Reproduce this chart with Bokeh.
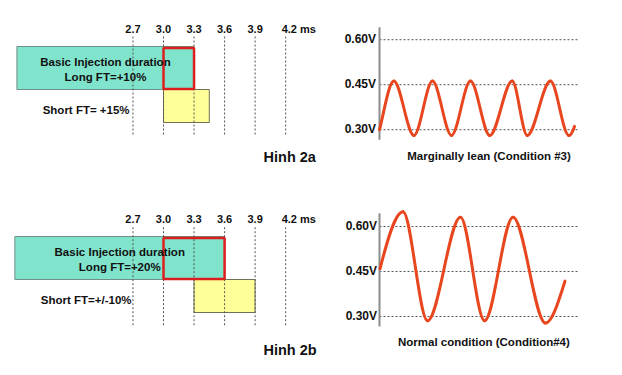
from bokeh.plotting import figure
from bokeh.layouts import column, row
from bokeh.models import Range1d
from bokeh.core.properties import value
from bokeh.embed import file_html
from bokeh.resources import INLINE

# ---------------- data ----------------
ms_ticks = [2.7, 3.0, 3.3, 3.6, 3.9, 4.2]
ms_tick_labels = ["2.7", "3.0", "3.3", "3.6", "3.9", "4.2 ms"]

basic_start = [1.56, 1.54]          # Hinh 2a, Hinh 2b
basic_end = [3.3, 3.6]
long_ft_start = [3.0, 3.0]
long_ft_end = [3.3, 3.6]
short_ft_start = [3.0, 3.3]
short_ft_end = [3.45, 3.9]
bar_titles = ["Basic Injection duration", "Basic Injection duration"]
long_ft_labels = ["Long FT=+10%", "Long FT=+20%"]
short_ft_labels = ["Short FT= +15%", "Short FT=+/-10%"]
panel_labels = ["Hinh 2a", "Hinh 2b"]

volt_ticks = [0.30, 0.45, 0.60]
volt_labels = ["0.30V", "0.45V", "0.60V"]

# O2 sensor traces: knots (start, peaks/troughs, end)
wave_a_t = [0, 14.3, 34.5, 53, 72, 91, 110.3, 132.7, 147.7, 171, 189.3, 195]
wave_a_v = [0.300, 0.462, 0.281, 0.462, 0.281, 0.462, 0.281, 0.462, 0.281, 0.462, 0.281, 0.311]
wave_a_start_slope = 0.013
wave_a_end_slope = 0.010

wave_b_t = [0.5, 23.5, 48, 81, 105, 133.5, 166, 185.5]
wave_b_v = [0.459, 0.649, 0.286, 0.631, 0.286, 0.631, 0.278, 0.418]
wave_b_start_slope = 0.013
wave_b_end_slope = 0.0105

captions = ["Marginally lean (Condition #3)", "Normal condition  (Condition#4)"]

# ---------------- styles ----------------
FONT = value("Liberation Sans")
TEAL = "#80E4CC"
TEAL_EDGE = "#6F8F88"
YELLOW = "#FFFF99"
YELLOW_EDGE = "#707055"
RED = "#DC1E1E"
WAVE = "#E8461E"
GRID = "#555555"
TXT = "#111111"

LEFT_W, RIGHT_W = 330, 276
TOP_H, BOT_H = 186, 173
PX_PER_MS = 101.8
MS_LEFT = 1.3988


def base_fig(w, h, xr, yr):
    p = figure(width=w, height=h, x_range=xr, y_range=yr,
               output_backend="svg", toolbar_location=None,
               x_axis_location=None, y_axis_location=None,
               min_border=0, outline_line_color=None,
               background_fill_color="white", border_fill_color="white")
    p.xgrid.grid_line_color = None
    p.ygrid.grid_line_color = None
    return p


def left_panel(i, h, lay):
    p = base_fig(LEFT_W, h,
                 Range1d(MS_LEFT, MS_LEFT + LEFT_W / PX_PER_MS),
                 Range1d(h, 0))
    # bars
    p.quad(left=[basic_start[i]], right=[basic_end[i]],
           top=[lay["teal_top"]], bottom=[lay["teal_bot"]],
           fill_color=TEAL, line_color=TEAL_EDGE, line_width=1)
    p.quad(left=[short_ft_start[i]], right=[short_ft_end[i]],
           top=[lay["teal_bot"]], bottom=[lay["yel_bot"]],
           fill_color=YELLOW, line_color=YELLOW_EDGE, line_width=1)
    # dotted time lines
    n = len(ms_ticks)
    p.segment(x0=ms_ticks, y0=[lay["gtop"]] * n, x1=ms_ticks, y1=[lay["gbot"]] * n,
              line_color=GRID, line_width=1, line_dash="2 2")
    # long FT box
    p.quad(left=[long_ft_start[i]], right=[long_ft_end[i]],
           top=[lay["red_top"]], bottom=[lay["red_bot"]],
           fill_alpha=0, line_color=RED, line_width=2.5)
    common = dict(text_font=FONT, text_font_style="bold", text_color=TXT,
                  text_baseline="alphabetic")
    # tick labels
    p.text(x=ms_ticks[:-1], y=[lay["tick"]] * (n - 1), text=ms_tick_labels[:-1],
           text_align="center", text_font_size="11px", **common)
    p.text(x=ms_ticks[-1:], y=[lay["tick"]], text=ms_tick_labels[-1:],
           text_align="left", x_offset=-4, text_font_size="11px", **common)
    mid = (basic_start[i] + basic_end[i]) / 2
    p.text(x=[mid, mid], y=[lay["l1"], lay["l2"]],
           text=[bar_titles[i], long_ft_labels[i]],
           text_align="center", text_font_size="11.5px", **common)
    p.text(x=[2.24], y=[lay["short"]], text=[short_ft_labels[i]],
           text_align="center", text_font_size="11.5px", **common)
    p.text(x=[lay["hinh_x"]], y=[lay["hinh"]], text=[panel_labels[i]],
           text_align="right", text_font_size="14.5px", **common)
    return p


def right_panel(h, yr, axis_lo, axis_hi, grid_end, label_x, cap_x, cap_y,
                caption, t, v, m0, m1):
    p = base_fig(RIGHT_W, h, Range1d(-49, -49 + RIGHT_W), yr)
    n = len(volt_ticks)
    p.segment(x0=[0] * n, y0=volt_ticks, x1=[grid_end] * n, y1=volt_ticks,
              line_color=GRID, line_width=1, line_dash="2 2")
    p.segment(x0=[0], y0=[axis_lo], x1=[0], y1=[axis_hi],
              line_color="#8C8C8C", line_width=2)
    # smooth trace: cubic Hermite segments between the read knots
    slopes = [m0] + [0.0] * (len(t) - 2) + [m1]
    x0, x1 = t[:-1], t[1:]
    y0, y1 = v[:-1], v[1:]
    dx = [b - a for a, b in zip(x0, x1)]
    cx0 = [a + d / 3 for a, d in zip(x0, dx)]
    cx1 = [b - d / 3 for b, d in zip(x1, dx)]
    cy0 = [a + s * d / 3 for a, s, d in zip(y0, slopes[:-1], dx)]
    cy1 = [b - s * d / 3 for b, s, d in zip(y1, slopes[1:], dx)]
    p.bezier(x0=x0, y0=y0, x1=x1, y1=y1, cx0=cx0, cy0=cy0, cx1=cx1, cy1=cy1,
             line_color=WAVE, line_width=3, line_cap="round")
    common = dict(text_font=FONT, text_font_style="bold", text_color=TXT,
                  text_baseline="alphabetic")
    p.text(x=[label_x] * n, y=[g + 0.0033 for g in volt_ticks], text=volt_labels,
           text_align="right", text_font_size="12px", **common)
    p.text(x=[cap_x], y=[cap_y], text=[caption], text_align="center",
           text_font_size="11.5px", **common)
    return p


lay_a = dict(tick=28.3, gtop=36, gbot=136, teal_top=46, teal_bot=89,
             red_top=47.5, red_bot=88.5, yel_bot=122, l1=61.3, l2=76,
             short=109.3, hinh=156.7, hinh_x=4.497)
lay_b = dict(tick=32.3, gtop=40.7, gbot=140.7, teal_top=50, teal_bot=93,
             red_top=51.5, red_bot=92.5, yel_bot=126, l1=65.3, l2=80,
             short=113.3, hinh=163.3, hinh_x=4.504)

tl = left_panel(0, TOP_H, lay_a)
bl = left_panel(1, BOT_H, lay_b)

tr = right_panel(TOP_H, Range1d(0.1107, 0.7307), 0.2663, 0.6417, 198, -3.5,
                 109.5, 0.2130, captions[0], wave_a_t, wave_a_v,
                 wave_a_start_slope, wave_a_end_slope)
br = right_panel(BOT_H, Range1d(0.1567, 0.7333), 0.2667, 0.6443, 200, -2.5,
                 106, 0.2166, captions[1], wave_b_t, wave_b_v,
                 wave_b_start_slope, wave_b_end_slope)

layout = column(row(tl, tr), row(bl, br))

open("out.html", "w").write(file_html(layout, INLINE))
